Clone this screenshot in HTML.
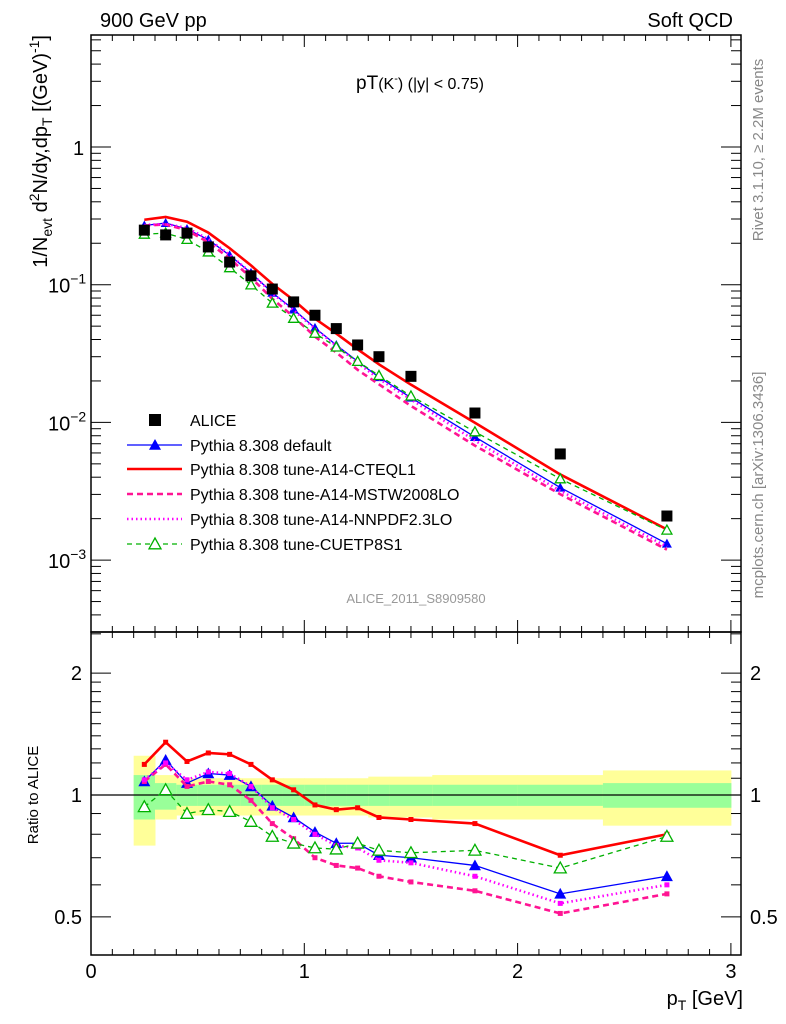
<!DOCTYPE html>
<html><head><meta charset="utf-8">
<style>
html,body{margin:0;padding:0;background:#fff;}
svg{display:block;font-family:"Liberation Sans",sans-serif;}
</style></head>
<body>
<svg id="c" width="786" height="1024" viewBox="0 0 786 1024">
<text x="100" y="27" font-size="20">900 GeV pp</text>
<text x="733" y="27" font-size="20" text-anchor="end">Soft QCD</text>
<text x="420" y="89" font-size="19" text-anchor="middle">pT<tspan font-size="16">(K</tspan><tspan font-size="11" dy="-7">-</tspan><tspan font-size="16" dy="7">)</tspan><tspan font-size="16"> (|y| &lt; 0.75)</tspan></text>
<text x="416" y="603" font-size="13" fill="#999" text-anchor="middle">ALICE_2011_S8909580</text>
<text transform="translate(763,150) rotate(-90)" font-size="15" fill="#888" text-anchor="middle">Rivet 3.1.10, ≥ 2.2M events</text>
<text transform="translate(763,485) rotate(-90)" font-size="15" fill="#888" text-anchor="middle">mcplots.cern.ch [arXiv:1306.3436]</text>
<text transform="translate(47,35) rotate(-90)" font-size="20" text-anchor="end">1/N<tspan font-size="14" dy="5">evt</tspan><tspan dy="-5"> d</tspan><tspan font-size="14" dy="-8">2</tspan><tspan dy="8">N/dy,dp</tspan><tspan font-size="14" dy="5">T</tspan><tspan dy="-5"> [(GeV)</tspan><tspan font-size="14" dy="-8">-1</tspan><tspan dy="8">]</tspan></text>
<text transform="translate(38,795) rotate(-90)" font-size="15" text-anchor="middle">Ratio to ALICE</text>
<text x="743" y="1005" font-size="20" text-anchor="end">p<tspan font-size="14" dy="5">T</tspan><tspan dy="-5"> [GeV]</tspan></text>
<g id="bands"></g><g id="plots"></g><g id="axes"></g><g id="legend"></g>
</svg>
<script>
const xs = [0.25,0.35,0.45,0.55,0.65,0.75,0.85,0.95,1.05,1.15,1.25,1.35,1.5,1.8,2.2,2.7];
const binLo = [0.2,0.3,0.4,0.5,0.6,0.7,0.8,0.9,1.0,1.1,1.2,1.3,1.4,1.6,2.0,2.4];
const binHi = [0.3,0.4,0.5,0.6,0.7,0.8,0.9,1.0,1.1,1.2,1.3,1.4,1.6,2.0,2.4,3.0];
const alice = [0.249,0.23,0.237,0.188,0.146,0.116,0.093,0.075,0.060,0.048,0.0365,0.030,0.0216,0.0117,0.0059,0.00209];
const yelUp = [1.25,1.12,1.10,1.10,1.10,1.10,1.10,1.10,1.10,1.10,1.10,1.11,1.11,1.12,1.12,1.15];
const yelDn = [0.75,0.87,0.89,0.89,0.89,0.89,0.89,0.89,0.89,0.89,0.89,0.88,0.88,0.87,0.87,0.84];
const grnUp = [1.12,1.07,1.06,1.06,1.06,1.06,1.06,1.06,1.06,1.06,1.06,1.06,1.06,1.06,1.06,1.07];
const grnDn = [0.87,0.92,0.94,0.94,0.94,0.94,0.94,0.94,0.94,0.94,0.94,0.94,0.94,0.94,0.94,0.93];
const rDefault = [1.08,1.22,1.07,1.13,1.12,1.05,0.94,0.88,0.81,0.76,0.76,0.71,0.70,0.67,0.57,0.63];
const rCteq = [1.19,1.35,1.21,1.27,1.26,1.19,1.09,1.03,0.945,0.92,0.93,0.88,0.87,0.85,0.71,0.80];
const rMstw = [1.08,1.19,1.05,1.08,1.06,0.97,0.85,0.78,0.70,0.67,0.66,0.63,0.61,0.58,0.51,0.57];
const rNnpdf = [1.09,1.20,1.09,1.14,1.13,1.05,0.93,0.87,0.80,0.75,0.74,0.69,0.68,0.63,0.54,0.60];
const rCuetp = [0.935,1.03,0.90,0.92,0.91,0.86,0.79,0.76,0.74,0.735,0.76,0.73,0.72,0.73,0.66,0.79];
const legendLabels = ["ALICE","Pythia 8.308 default","Pythia 8.308 tune-A14-CTEQL1","Pythia 8.308 tune-A14-MSTW2008LO","Pythia 8.308 tune-A14-NNPDF2.3LO","Pythia 8.308 tune-CUETP8S1"];

const NS="http://www.w3.org/2000/svg";
const L=91,R=741,T1=35,B1=632,T2=632,B2=955;
const X=v=>91+v*213.3;
const Y1=v=>147-Math.log10(v)*137.7;
const Y2=v=>795-Math.log10(v)*405;
function mk(tag,attrs,parent){const e=document.createElementNS(NS,tag);for(const k in attrs)e.setAttribute(k,attrs[k]);parent.appendChild(e);return e;}
const gB=document.getElementById('bands'),gP=document.getElementById('plots'),gA=document.getElementById('axes'),gL=document.getElementById('legend');

for(let i=0;i<xs.length;i++){
  const y=mk('rect',{x:X(binLo[i]),y:Y2(yelUp[i]),width:X(binHi[i])-X(binLo[i])+0.5,height:Y2(yelDn[i])-Y2(yelUp[i]),fill:'#ffff99'},gB);
  
  
  const g=mk('rect',{x:X(binLo[i]),y:Y2(grnUp[i]),width:X(binHi[i])-X(binLo[i])+0.5,height:Y2(grnDn[i])-Y2(grnUp[i]),fill:'#99ff99'},gB);
  
  
}
const one=mk('line',{x1:L,x2:R,y1:Y2(1),y2:Y2(1),stroke:'#000','stroke-width':1.3},gB);



const series=[
 {r:rDefault,c:'#0000ff',w:1.3,d:'',m:'tri',name:'pythia-default'},
 {r:rCteq,c:'#ff0000',w:2.6,d:'',m:'sq',name:'pythia-a14-cteql1'},
 {r:rMstw,c:'#ff1493',w:2.6,d:'6,4',m:'sq',name:'pythia-a14-mstw2008lo'},
 {r:rNnpdf,c:'#ff00ff',w:2.6,d:'1.5,3',m:'sq',name:'pythia-a14-nnpdf23lo'},
 {r:rCuetp,c:'#00b000',w:1.3,d:'5,4',m:'otri',name:'pythia-cuetp8s1'}];
function marker(type,x,y,c,g,small){
  let e;
  if(type==='tri'){const s=small?5:6;e=mk('polygon',{points:`${x},${y-s} ${x-s},${y+s*0.8} ${x+s},${y+s*0.8}`,fill:c},g);}
  else if(type==='otri'){const s=small?5:6;e=mk('polygon',{points:`${x},${y-s} ${x-s},${y+s*0.8} ${x+s},${y+s*0.8}`,fill:'#fff',stroke:c,'stroke-width':1.3},g);}
  else {e=mk('rect',{x:x-2.5,y:y-2.5,width:5,height:5,fill:c},g);}
  return e;
}
series.forEach(s=>{
  const top=s.r.map((v,i)=>v*alice[i]);
  const p1=xs.map((x,i)=>X(x)+','+Y1(top[i])).join(' ');
  const l1=mk('polyline',{points:p1,fill:'none',stroke:s.c,'stroke-width':s.w,'stroke-dasharray':s.d},gP);
  
  
  const p2=xs.map((x,i)=>X(x)+','+Y2(s.r[i])).join(' ');
  const l2=mk('polyline',{points:p2,fill:'none',stroke:s.c,'stroke-width':s.w,'stroke-dasharray':s.d},gP);
  
  
  xs.forEach((x,i)=>{
    if(s.m!=='sq'){const m1=marker(s.m,X(x),Y1(top[i]),s.c,gP,true);
      
      }
    const m2=marker(s.m,X(x),Y2(s.r[i]),s.c,gP,false);
    
    
  });
});
xs.forEach((x,i)=>{
  const e=mk('rect',{x:X(x)-5.5,y:Y1(alice[i])-5.5,width:11,height:11,fill:'#000'},gP);
  
  
});

[[T1,B1],[T2,B2]].forEach(([t,b],k)=>{
  const f=mk('rect',{x:L,y:t,width:R-L,height:b-t,fill:'none',stroke:'#000','stroke-width':1.5},gA);
  
  
  for(let v=0;v<=3.05;v+=0.1){
    const vv=Math.round(v*10)/10;const len=(Math.abs(vv-Math.round(vv))<1e-6)?12:6;
    mk('line',{x1:X(vv),x2:X(vv),y1:b,y2:b-len,stroke:'#000','stroke-width':1},gA);
    mk('line',{x1:X(vv),x2:X(vv),y1:t,y2:t+len,stroke:'#000','stroke-width':1},gA);
  }
});
for(let e=-4;e<=0;e++)for(let m=1;m<10;m++){
  const v=m*Math.pow(10,e);const y=Y1(v);if(y<T1||y>B1)continue;
  const len=m===1?20:10;
  mk('line',{x1:L,x2:L+len,y1:y,y2:y,stroke:'#000','stroke-width':1},gA);
  mk('line',{x1:R,x2:R-len,y1:y,y2:y,stroke:'#000','stroke-width':1},gA);
}
const topLbl=[[1,'1',null],[0.1,'10','−1'],[0.01,'10','−2'],[0.001,'10','−3']];
topLbl.forEach(([v,b,e])=>{
  const t=mk('text',{x:e?48:73,y:Y1(v)+8,'font-size':20},gA);
  
  
  t.textContent=b;
  if(e){const s=mk('tspan',{'font-size':14,dy:-9},t);s.textContent=e;}
});
[0.5,0.6,0.7,0.8,0.9,1,1.1,1.2,1.3,1.4,1.5,1.6,1.7,1.8,1.9,2,2.5].forEach(v=>{
  const y=Y2(v);const len=(v===0.5||v===1||v===2)?20:10;
  mk('line',{x1:L,x2:L+len,y1:y,y2:y,stroke:'#000','stroke-width':1},gA);
  mk('line',{x1:R,x2:R-len,y1:y,y2:y,stroke:'#000','stroke-width':1},gA);
});
[[2,'2'],[1,'1'],[0.5,'0.5']].forEach(([v,s])=>{
  const a=mk('text',{x:82,y:Y2(v)+7,'font-size':20,'text-anchor':'end'},gA);
  
  
  a.textContent=s;
  const b=mk('text',{x:750,y:Y2(v)+7,'font-size':20},gA);
  
  
  b.textContent=s;
});
[0,1,2,3].forEach(v=>{
  const t=mk('text',{x:X(v),y:978,'font-size':20,'text-anchor':'middle'},gA);
  
  
  t.textContent=v;
});
const ly=[420,445,469,494,519,544];
legendLabels.forEach((lab,i)=>{
  const y=ly[i];
  if(i===0){const e=mk('rect',{x:149,y:y-6,width:12,height:12,fill:'#000'},gL);
    
    }
  else{const s=series[i-1];
    const l=mk('line',{x1:127,x2:182,y1:y,y2:y,stroke:s.c,'stroke-width':s.w,'stroke-dasharray':s.d},gL);
    
    
    if(s.m!=='sq'){const m=marker(s.m,155,y,s.c,gL,false);
      
      }}
  const t=mk('text',{x:190,y:y+6,'font-size':16},gL);
  
  
  t.textContent=lab;
});
</script>
</body></html>
